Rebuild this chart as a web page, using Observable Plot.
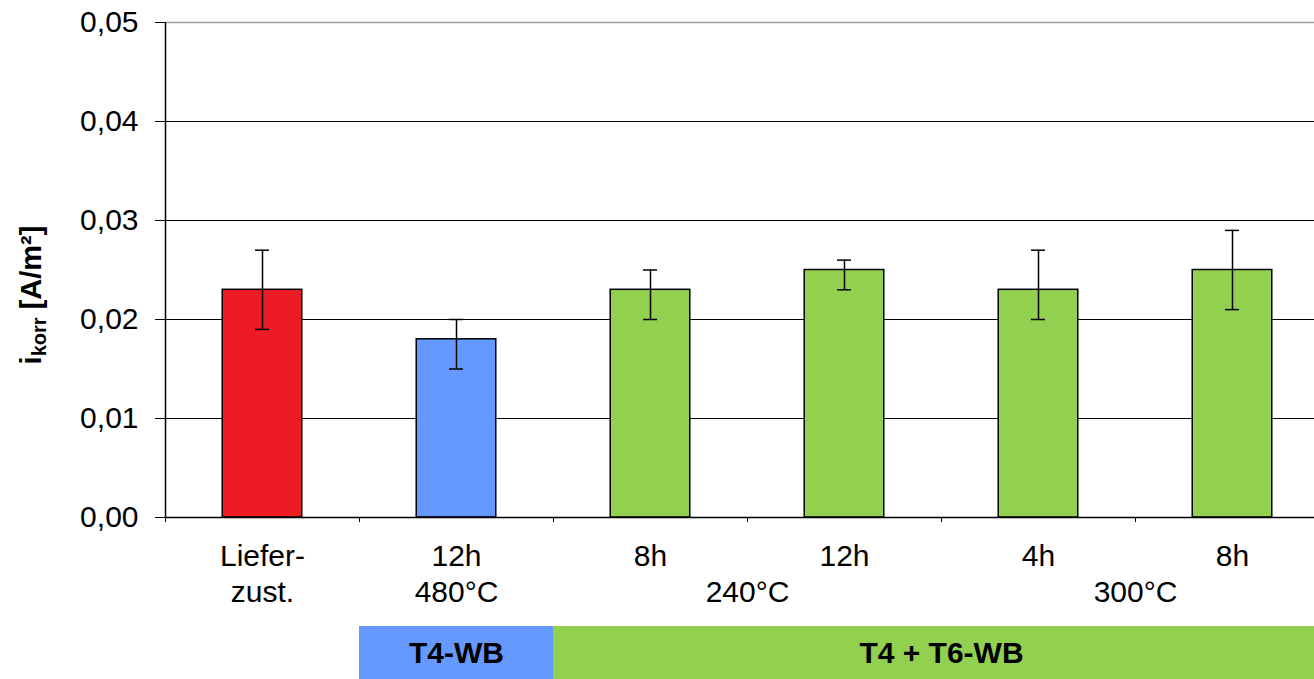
<!DOCTYPE html>
<html>
<head>
<meta charset="utf-8">
<script src="https://cdn.jsdelivr.net/npm/d3@7"></script>
<script src="https://cdn.jsdelivr.net/npm/@observablehq/plot@0.6"></script>
<style>
  html, body { margin: 0; padding: 0; background: #fff; overflow: hidden; }
  svg { display: block; overflow: hidden; max-width: none !important; }
</style>
</head>
<body>
<div id="chart"></div>
<script>
// ---- data ----
const labelsTop = ["Liefer-", "12h", "8h", "12h", "4h", "8h"];
const labelsBottom = ["zust.", "", "", "", "", ""];
const values = [0.023, 0.018, 0.023, 0.025, 0.023, 0.025];
const errLow = [0.019, 0.015, 0.020, 0.023, 0.020, 0.021];
const errHigh = [0.027, 0.020, 0.025, 0.026, 0.027, 0.029];
const barColors = ["#ED1C24", "#6699FF", "#92D050", "#92D050", "#92D050", "#92D050"];

const tempLabels = ["480°C", "240°C", "300°C"];
const tempFirst = [1, 2, 4];   // first category index of the temperature group
const tempLast = [1, 3, 5];    // last category index

const groupLabels = ["T4-WB", "T4 + T6-WB"];
const groupFirst = [1, 2];
const groupLast = [1, 5];
const groupColors = ["#6699FF", "#92D050"];

const yTicks = [0, 0.01, 0.02, 0.03, 0.04, 0.05];

// ---- layout ----
const W = 1314;
const xRange = [165, 1329];
const font = "'Liberation Sans', Arial, sans-serif";
const idx = values.map((_, i) => i);
const halfBar = 0.205;
const halfCap = 0.036;
const fmt = d => d.toFixed(2).replace(".", ",");

const main = Plot.plot({
  width: W,
  height: 626,
  marginTop: 22,
  marginBottom: 109,
  marginLeft: 165,
  marginRight: 0,
  style: { fontFamily: font, fontSize: "30px", color: "#000", background: "#fff" },
  x: { type: "linear", domain: [0, labelsTop.length], range: xRange, axis: null },
  y: { domain: [0, 0.05], axis: null },
  marks: [
    Plot.ruleY(yTicks.filter(t => t > 0 && t < 0.05), { stroke: "#000", strokeWidth: 1.2 }),
    Plot.ruleY([0.05], { stroke: "#9a9a9a", strokeWidth: 1.5 }),
    Plot.rectY(idx, {
      x1: i => i + 0.5 - halfBar, x2: i => i + 0.5 + halfBar,
      y1: 0, y2: i => values[i],
      fill: i => barColors[i], stroke: "#000", strokeWidth: 1.5
    }),
    Plot.ruleX(idx, { x: i => i + 0.5, y1: i => errLow[i], y2: i => errHigh[i], stroke: "#000", strokeWidth: 1.5 }),
    Plot.ruleY(idx, { x1: i => i + 0.5 - halfCap, x2: i => i + 0.5 + halfCap, y: i => errLow[i], stroke: "#000", strokeWidth: 1.5 }),
    Plot.ruleY(idx, { x1: i => i + 0.5 - halfCap, x2: i => i + 0.5 + halfCap, y: i => errHigh[i], stroke: "#000", strokeWidth: 1.5 }),
    Plot.ruleY([0], { stroke: "#000", strokeWidth: 1.5 }),
    Plot.ruleX([0], { y1: 0, y2: 0.05, stroke: "#000", strokeWidth: 1.5 }),
    Plot.axisY({ ticks: yTicks, tickSize: 10, tickPadding: 17, tickFormat: fmt, label: null, fontSize: 30, stroke: "#000" }),
    Plot.axisX({ ticks: d3.range(labelsTop.length + 1), tickSize: 5, tickFormat: () => "", label: null, stroke: "#000" }),
    Plot.text(idx, { x: i => i + 0.5, y: 0, dy: 39, text: i => labelsTop[i], fontSize: 30, fill: "#000" }),
    Plot.text(idx, { x: i => i + 0.5, y: 0, dy: 75, text: i => labelsBottom[i], fontSize: 30, fill: "#000" }),
    Plot.text(tempLabels, { x: (d, i) => (tempFirst[i] + tempLast[i] + 1) / 2, y: 0, dy: 75, text: d => d, fontSize: 30, fill: "#000" })
  ]
});

// y-axis title with subscript
const svg = d3.select(main);
const t = svg.append("text")
  .attr("transform", "translate(41,295) rotate(-90)")
  .attr("text-anchor", "middle")
  .attr("font-family", font)
  .attr("font-weight", "bold")
  .attr("font-size", 29)
  .attr("fill", "#000");
t.append("tspan").text("i");
t.append("tspan").attr("font-size", 20).attr("dy", 5).text("korr");
t.append("tspan").attr("dy", -5).text(" [A/m²]");

const band = Plot.plot({
  width: W,
  height: 53,
  marginTop: 0,
  marginBottom: 0,
  marginLeft: 165,
  marginRight: 0,
  style: { fontFamily: font, fontSize: "30px", color: "#000", background: "#fff" },
  x: { type: "linear", domain: [0, labelsTop.length], range: xRange, axis: null },
  marks: [
    Plot.rect(groupLabels, { x1: (d, i) => groupFirst[i], x2: (d, i) => groupLast[i] + 1, fill: (d, i) => groupColors[i] }),
    Plot.text(groupLabels, { x: (d, i) => (groupFirst[i] + groupLast[i] + 1) / 2, frameAnchor: "middle", text: d => d, fontSize: 30, fontWeight: "bold", fill: "#000" })
  ]
});

const root = document.getElementById("chart");
root.appendChild(main);
root.appendChild(band);
</script>
</body>
</html>
